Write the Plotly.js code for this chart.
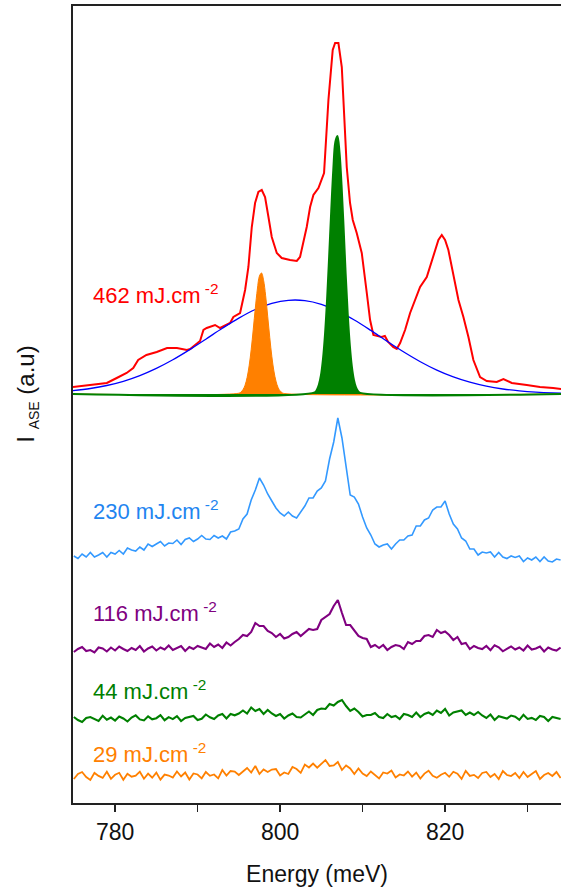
<!DOCTYPE html>
<html><head><meta charset="utf-8">
<script src="https://cdn.plot.ly/plotly-3.0.1.min.js"></script>
<style>html,body{margin:0;padding:0;background:#fff}#chart{width:561px;height:888px}</style>
</head><body><div id="chart"></div>
<script>
// ---- top panel: 462 mJ.cm-2 spectrum (heights above top baseline) ----
const redEnergy = [774.9,776.97,779.0,780.2,781.4,782.2,782.8,783.8,785.05,786.3,787.5,788.7,789.1,789.7,790.3,790.71,791.11,792.12,792.73,793.94,794.34,795.15,795.76,796.16,796.57,796.97,797.37,797.78,798.18,798.59,798.99,799.6,800.2,801.21,802.02,802.42,802.83,803.23,803.64,804.04,804.65,805.05,805.33,805.86,806.38,806.67,807.07,807.48,807.76,808.08,808.48,808.81,809.29,809.9,810.51,810.91,811.31,811.7,812.3,812.7,813.1,813.7,814.14,814.55,815.15,815.76,816.36,816.97,817.78,818.59,819.19,819.6,820.0,820.4,821.01,821.62,822.22,822.83,823.43,824.24,825.05,826.26,827.07,828.08,829.9,831.5,833.1,834.06];
const redIntensity = [7,9,11,16,21,26,34,39,42,46,46,44,45,49,53,64,66,69,66,71,77,81,104,127,167,191,202,204,197,177,157,141,136,134,133,137,151,167,187,199,206,214,221,294,344,351,351,327,277,227,191,174,161,141,101,74,59,58,57,58,52,47,45,51,64,81,94,107,117,137,154,159,154,144,117,94,77,57,34,17,13,12,15,11,9,7,6,5];

const blueEnergy = [774.9,777,779,781,783,785,787,789,791,793,795,797,799,801,803,805,807,809,811,813,815,817,819,821,823,825,827,829,831,833,834.06];
const blueFit = [3.3,5.5,8.5,12.7,18.4,25.6,34.2,44.1,54.8,65.7,75.9,84.5,90.6,93.7,93.4,89.7,82.9,74.0,63.6,52.6,42.0,32.3,23.9,17.1,11.8,7.8,5.0,3.1,1.8,1.0,0.8];

const orangePeakEnergy = [774.9,795.0,795.25,795.5,795.75,796.0,796.25,796.5,796.75,797.0,797.25,797.5,797.75,798.0,798.25,798.5,798.75,799.0,799.25,799.5,799.75,800.0,800.25,800.5,834.06];
const orangePeak = [0,0.8,1.9,4.3,8.7,16.4,28.2,44.5,64.8,86,105,118,121,113.7,98.2,77.7,56.4,37.5,23,12.9,6.6,3.1,1.3,0.5,0];

const greenPeakEnergy = [774.9,804.2,804.45,804.7,804.95,805.2,805.45,805.7,805.95,806.2,806.45,806.7,806.95,807.2,807.45,807.7,807.95,808.2,808.45,808.7,808.95,809.2,809.45,809.7,834.06];
const greenPeak = [0,1.7,4.1,9.2,18.5,35,60,94.9,138,183,224,252,258,242,209,166,120,80,49,27.5,14.1,6.6,2.8,1.1,0];

// ---- bottom panel: lower fluences (heights above each trace's own baseline) ----
const energy = [
775,775.5,776,776.5,777,777.5,778,778.5,779,779.5,
780,780.5,781,781.5,782,782.5,783,783.5,784,784.5,
785,785.5,786,786.5,787,787.5,788,788.5,789,789.5,
790,790.5,791,791.5,792,792.5,793,793.5,794,794.5,
795,795.5,796,796.5,797,797.5,798,798.5,799,799.5,
800,800.5,801,801.5,802,802.5,803,803.5,804,804.5,
805,805.5,806,806.5,807,807.5,808,808.5,809,809.5,
810,810.5,811,811.5,812,812.5,813,813.5,814,814.5,
815,815.5,816,816.5,817,817.5,818,818.5,819,819.5,
820,820.5,821,821.5,822,822.5,823,823.5,824,824.5,
825,825.5,826,826.5,827,827.5,828,828.5,829,829.5,
830,830.5,831,831.5,832,832.5,833,833.5,834];

const i230 = [
1,-1.5,3,0,4.5,0,2,4.5,0,4.5,
3,6.5,3,9,7,6,10,7,13,10.5,
13,15.5,11,14,13.5,17,12.5,17.5,19,15.5,
18,21.5,18,17.5,21.5,19,21,18,25,26,
28,38,43,57,67,79,72,63,56,49,
44,41,45,41,39,45,51,59,59,66,
69,76,98,115,139,119,90,62,60,53,
40,29,22,13,10,12,13,8,13,17,
17,21,22,31,31,37,39,47,50,50,
56,43,33,28,19,16,8,8,2,5,
4,5,0,4.5,0,-1.5,1,-0.5,1,-4.5,
-1,-3,0,-4.5,0,-4,-5,-2,-3];

const i116 = [
-2,1,3,-1,0,-2.5,2.5,1.5,-1.5,2.5,
-0.5,3.5,1,-1,2,0,4,-1.5,1.5,3.5,
-0.5,2.5,0.5,4.5,0,2,4,-1,3,1,
4,2.5,1,6.5,3,5.5,2,7.5,4.5,8,
11,15,14,18,27,24,24,19,17,13,
16,11.5,13,16,18,14,18,21,20,21,
30,33,36,44,50,37,25,25,20,14,
12,11,3,5,2,5,0,3,5,4,
1,8,6,9,9,14,15,13,20,17,
18.5,15,10,13,6,7,1,4,2,1,
4,-0.2,4.8,2.7,-1.3,1.6,3.6,0.5,2.5,-0.5,
4.5,0.5,1.5,3.5,-1.5,2.5,0.5,-0.5,2.5];

const i44 = [
2,-1,-3,1,2,0,-2,3.3,-0.7,1.4,
-1.6,2.5,0.5,-2.5,1.5,3.6,-0.4,-1.4,2.7,-0.3,
0.8,3.8,-1.2,1.9,-0.1,2.9,-2,1,2,3,
-1,0.2,4.5,1.7,0,3.5,5,0.5,5,3.7,
5.5,8.5,5.5,11.5,8,10,5,9,5.5,3,
5,0.5,3.5,5.5,2,1.5,4.5,7.5,4,9,
10.5,10,15,13.5,17,19,13,8,10.5,7,
2.5,4,4,6,2,1,5,2,3,0,
5,4,2,6.5,2,5,6.5,4,8.5,6,
10,3.5,6.5,7.5,8.5,4,6.5,4,7,3.5,
1,4.5,-1,2.8,1.6,0.5,3.4,2.3,-0.8,4.2,
0.1,1.1,-1,3,2,-2,2,1,0];

const i29 = [
-3,2,4,-1,-3.9,3.1,0.1,-1.9,4.2,-2.8,
1.2,3.2,-3.8,2.3,-0.7,0.3,4.3,-2.7,2.4,-1.7,
3.4,-3.6,1.4,0.5,-1.6,4.5,-0.5,3.5,-3.5,2.5,
1.5,-2.3,4,0.2,1.5,-2.3,6,0.5,5,4.5,
1,4.5,8,3.5,10,2,6.5,4,6.5,7,
0.5,3.5,2,9,7,3.2,11.5,8.5,12.5,8.3,
12,16,10,10.5,14,6,10.5,7.5,2,7.5,
2.5,0,4.5,0.5,-2.5,3.5,2.5,5.5,-1.5,1.5,
0.5,4.5,-0.6,3.4,-2.6,2.4,5.3,0.3,-1.7,1.3,
3.2,-0.8,4.2,2.2,-2.9,5.1,0.1,1.1,-2,3,
4,-1,2,-3,5,1,0,3,-2,4,
-1,2,5,-3,1,3,0,4,-2];

const fluenceLabels = ['462','230','116','44','29'];

// ---- layout constants (vertical stacking offsets, colours) ----
const offsets = {f230:-163, f116:-256, f44:-325, f29:-382};
const FONT = 'Liberation Sans, Arial, Helvetica, sans-serif';
const AX = '#222222';

function shift(arr, off){ return arr.map(v => v + off); }

const traces = [
  {x: redEnergy, y: redIntensity, mode:'lines', line:{color:'#ff0000', width:2}},
  {x: blueEnergy, y: blueFit, mode:'lines', line:{color:'#0000ff', width:1.3, shape:'spline'}},
  {x: orangePeakEnergy, y: orangePeak, mode:'lines', fill:'tozeroy', fillcolor:'#ff8000', line:{color:'#ff8000', width:1, shape:'spline'}},
  {x: greenPeakEnergy, y: greenPeak, mode:'lines', fill:'tozeroy', fillcolor:'#008000', line:{color:'#008000', width:2, shape:'spline'}},
  {x: energy, y: shift(i230, offsets.f230), mode:'lines', line:{color:'#3399ff', width:1.6}},
  {x: energy, y: shift(i116, offsets.f116), mode:'lines', line:{color:'#800080', width:2.1}},
  {x: energy, y: shift(i44, offsets.f44), mode:'lines', line:{color:'#008000', width:2.1}},
  {x: energy, y: shift(i29, offsets.f29), mode:'lines', line:{color:'#ff8000', width:1.8}}
];

const labelColors = ['#ff0000','#1f85f0','#800080','#008000','#ff8000'];
const labelY = [100, -116, -218, -296, -358.5];
const annotations = fluenceLabels.map((f,i) => ({
  x: 777.1, y: labelY[i], xref:'x', yref:'y', xanchor:'left', yanchor:'middle',
  text: f + ' mJ.cm<sup> -2</sup>', showarrow:false,
  font:{family:FONT, size:22, color:labelColors[i]}
}));
annotations.push({
  x: -0.096, y: 0.5125, xref:'paper', yref:'paper', xanchor:'center', yanchor:'middle',
  text:'I <sub><span style="font-size:14px">ASE</span></sub> (a.u)', textangle:-90, showarrow:false,
  font:{family:FONT, size:24, color:'#111111'}
});

const layout = {
  width:561, height:888,
  margin:{l:73, r:0, t:6, b:85},
  paper_bgcolor:'#ffffff', plot_bgcolor:'#ffffff',
  showlegend:false,
  font:{family:FONT, color:'#111111'},
  xaxis:{
    range:[774.9, 834.05], showgrid:false, zeroline:false,
    showline:true, linecolor:AX, linewidth:2, mirror:true,
    ticks:'outside', ticklen:7, tickwidth:1.5, tickcolor:AX,
    tick0:0, dtick:20,
    minor:{dtick:10, ticks:'outside', ticklen:7, tickwidth:1.5, tickcolor:AX},
    tickfont:{family:FONT, size:23, color:'#111111'},
    title:{text:'Energy (meV)', font:{family:FONT, size:23, color:'#111111'}, standoff:22}
  },
  yaxis:{
    range:[-409, 388], showgrid:false, zeroline:false,
    showline:true, linecolor:AX, linewidth:2, mirror:false,
    ticks:'', showticklabels:false
  },
  annotations: annotations
};

Plotly.newPlot('chart', traces, layout, {displayModeBar:false, staticPlot:true});
</script></body></html>
